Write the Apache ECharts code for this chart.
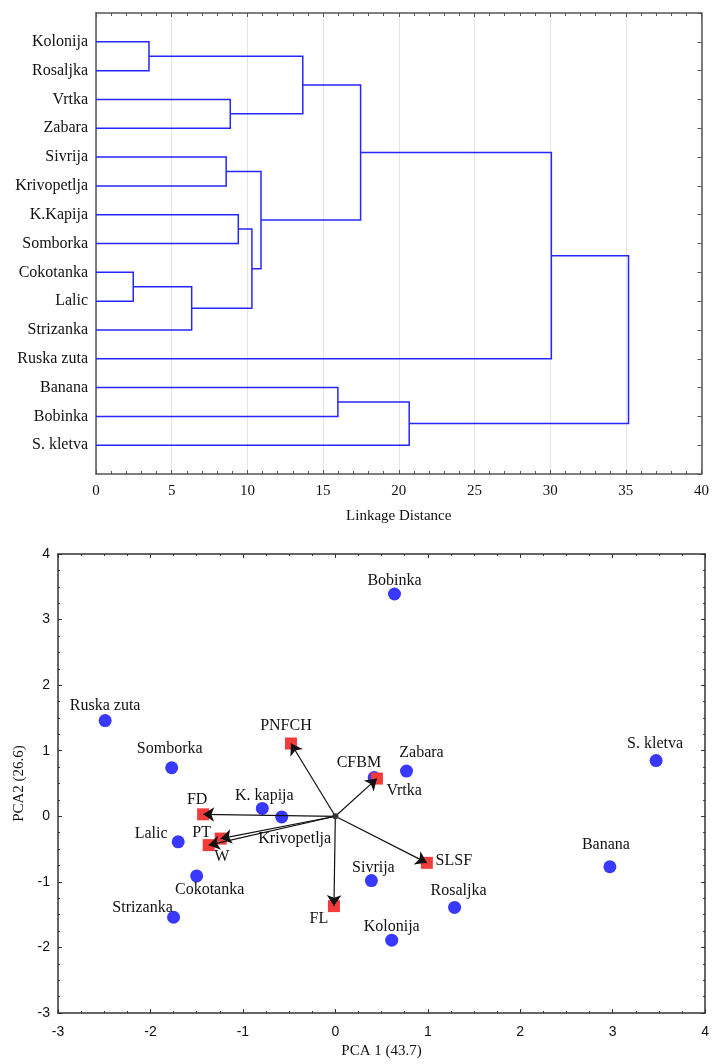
<!DOCTYPE html>
<html>
<head>
<meta charset="utf-8">
<script src="https://cdn.jsdelivr.net/npm/echarts@6/dist/echarts.min.js"></script>
<style>
  html, body { margin: 0; padding: 0; background: #ffffff; }
  #chart { width: 712px; height: 1064px; }
</style>
</head>
<body>
<div id="chart"></div>
<script>
// ---- dendrogram data ----
var leaves = ['Kolonija', 'Rosaljka', 'Vrtka', 'Zabara', 'Sivrija', 'Krivopetlja', 'K.Kapija',
  'Somborka', 'Cokotanka', 'Lalic', 'Strizanka', 'Ruska zuta', 'Banana', 'Bobinka', 'S. kletva']
// each merge: [left node, right node, linkage distance]; node >= 15 is merge (node - 15)
var mergeLeft = [0, 2, 15, 4, 6, 8, 20, 19, 18, 17, 24, 12, 26, 25]
var mergeRight = [1, 3, 16, 5, 7, 9, 10, 21, 22, 23, 11, 13, 14, 27]
var mergeHeight = [3.5, 8.87, 13.66, 8.6, 9.4, 2.46, 6.32, 10.3, 10.9, 17.48, 30.08, 15.98, 20.69, 35.18]

// ---- PCA data ----
var cultivars = ['Bobinka', 'Ruska zuta', 'Somborka', 'K. kapija', 'Krivopetlja', 'Lalic', 'Cokotanka',
  'Strizanka', 'Vrtka', 'Zabara', 'S. kletva', 'Sivrija', 'Rosaljka', 'Kolonija', 'Banana']
var pc1 = [0.64, -2.49, -1.77, -0.79, -0.58, -1.70, -1.50, -1.75, 0.42, 0.77, 3.47, 0.39, 1.29, 0.61, 2.97]
var pc2 = [3.39, 1.46, 0.74, 0.12, -0.01, -0.39, -0.91, -1.54, 0.59, 0.69, 0.85, -0.98, -1.39, -1.89, -0.77]
var variables = ['PNFCH', 'CFBM', 'FD', 'PT', 'W', 'SLSF', 'FL']
var vx = [-0.48, 0.45, -1.43, -1.24, -1.37, 0.99, -0.015]
var vy = [1.11, 0.575, 0.03, -0.34, -0.44, -0.71, -1.37]

var labelOffset = {
  'Bobinka': [0, -13], 'Ruska zuta': [0, -15], 'Somborka': [-2, -19], 'K. kapija': [2, -13],
  'Krivopetlja': [13, 22], 'Lalic': [-27, -8], 'Cokotanka': [13, 14], 'Strizanka': [-31, -9],
  'Vrtka': [30, 13], 'Zabara': [15, -18], 'S. kletva': [-1, -17], 'Sivrija': [2, -13],
  'Rosaljka': [4, -17], 'Kolonija': [0, -13], 'Banana': [-4, -22],
  'PNFCH': [-5, -18], 'CFBM': [-18, -16], 'FD': [-6, -15], 'PT': [-19, -6], 'W': [13, 12],
  'SLSF': [27, -2], 'FL': [-15, 13]
}

var serif = '"Liberation Serif", "DejaVu Serif", serif'
var sans = '"Liberation Sans", Arial, sans-serif'

// build dendrogram polylines
var nodeY = leaves.map(function(n, i) { return i + 1 })
var nodeH = leaves.map(function() { return 0 })
var links = []
for (var m = 0; m < mergeHeight.length; m++) {
  var a = mergeLeft[m], b = mergeRight[m], h = mergeHeight[m]
  links.push({ coords: [[nodeH[a], nodeY[a]], [h, nodeY[a]], [h, nodeY[b]], [nodeH[b], nodeY[b]]] })
  nodeY.push((nodeY[a] + nodeY[b]) / 2)
  nodeH.push(h)
}

function pointData(names, xs, ys) {
  return names.map(function(n, i) {
    return { name: n, value: [xs[i], ys[i]], label: { offset: labelOffset[n] } }
  })
}

var frameDark = '#333'
var frameGrey = '#555'
var textCol = '#111'

var option = {
  animation: false,
  backgroundColor: '#ffffff',
  grid: [
    { left: 96, top: 13, width: 607, height: 461 },
    { left: 58, top: 554, width: 650, height: 459 }
  ],
  xAxis: [
    {
      gridIndex: 0, type: 'value', min: 0, max: 40, interval: 5, position: 'bottom',
      name: 'Linkage Distance', nameLocation: 'middle', nameGap: 35,
      nameTextStyle: { fontFamily: serif, fontSize: 15, color: textCol },
      axisLine: { onZero: false, lineStyle: { color: frameGrey, width: 1.5 } },
      axisTick: { inside: true, length: 4, lineStyle: { color: frameGrey } },
      minorTick: { show: true, splitNumber: 5, length: 3, lineStyle: { color: frameGrey } },
      splitLine: { show: true, lineStyle: { color: '#e4e4e4' } },
      axisLabel: { fontFamily: serif, fontSize: 15, color: textCol, margin: 10 }
    },
    {
      gridIndex: 0, type: 'value', min: 0, max: 40, interval: 5, position: 'top',
      axisLine: { onZero: false, lineStyle: { color: frameGrey, width: 1.5 } },
      axisTick: { inside: true, length: 4, lineStyle: { color: frameGrey } },
      minorTick: { show: true, splitNumber: 5, length: 3, lineStyle: { color: frameGrey } },
      splitLine: { show: false }, axisLabel: { show: false }
    },
    {
      gridIndex: 1, type: 'value', min: -3, max: 4, interval: 1, position: 'bottom',
      name: 'PCA 1 (43.7)', nameLocation: 'middle', nameGap: 31,
      nameTextStyle: { fontFamily: serif, fontSize: 15, color: textCol },
      axisLine: { onZero: false, lineStyle: { color: frameDark, width: 1.5 } },
      axisTick: { inside: true, length: 4, lineStyle: { color: frameDark } },
      minorTick: { show: true, splitNumber: 4, length: 2, lineStyle: { color: frameDark } },
      splitLine: { show: false },
      axisLabel: { fontFamily: sans, fontSize: 14, color: textCol, margin: 12 }
    },
    {
      gridIndex: 1, type: 'value', min: -3, max: 4, interval: 1, position: 'top',
      axisLine: { onZero: false, lineStyle: { color: frameDark, width: 1.5 } },
      axisTick: { inside: true, length: 4, lineStyle: { color: frameDark } },
      minorTick: { show: true, splitNumber: 4, length: 2, lineStyle: { color: frameDark } },
      splitLine: { show: false }, axisLabel: { show: false }
    }
  ],
  yAxis: [
    {
      gridIndex: 0, type: 'value', min: 0, max: 16, interval: 1, inverse: true, position: 'left',
      axisLine: { onZero: false, lineStyle: { color: frameGrey, width: 1.5 } },
      axisTick: { show: false },
      splitLine: { show: false },
      axisLabel: {
        fontFamily: serif, fontSize: 16, color: textCol, margin: 8,
        formatter: function(v) { return leaves[v - 1] || '' }
      }
    },
    {
      gridIndex: 0, type: 'value', min: 0, max: 16, interval: 1, inverse: true, position: 'right',
      axisLine: { onZero: false, lineStyle: { color: frameGrey, width: 1.5 } },
      axisTick: { inside: true, length: 4, lineStyle: { color: frameGrey } },
      splitLine: { show: false }, axisLabel: { show: false }
    },
    {
      gridIndex: 1, type: 'value', min: -3, max: 4, interval: 1, position: 'left',
      name: 'PCA2 (26.6)', nameLocation: 'middle', nameGap: 26, nameRotate: 90,
      nameTextStyle: { fontFamily: serif, fontSize: 15, color: textCol },
      axisLine: { onZero: false, lineStyle: { color: frameDark, width: 1.5 } },
      axisTick: { inside: true, length: 4, lineStyle: { color: frameDark } },
      minorTick: { show: true, splitNumber: 4, length: 2, lineStyle: { color: frameDark } },
      splitLine: { show: false },
      axisLabel: { fontFamily: sans, fontSize: 14, color: textCol, margin: 8 }
    },
    {
      gridIndex: 1, type: 'value', min: -3, max: 4, interval: 1, position: 'right',
      axisLine: { onZero: false, lineStyle: { color: frameDark, width: 1.5 } },
      axisTick: { inside: true, length: 4, lineStyle: { color: frameDark } },
      minorTick: { show: true, splitNumber: 4, length: 2, lineStyle: { color: frameDark } },
      splitLine: { show: false }, axisLabel: { show: false }
    }
  ],
  series: [
    {
      type: 'lines', coordinateSystem: 'cartesian2d', xAxisIndex: 0, yAxisIndex: 0,
      polyline: true, silent: true,
      lineStyle: { color: '#2626ff', width: 1.5, opacity: 1 },
      data: links
    },
    {
      type: 'lines', coordinateSystem: 'cartesian2d', xAxisIndex: 2, yAxisIndex: 2,
      silent: true, z: 5,
      symbol: ['none', 'arrow'], symbolSize: 11,
      lineStyle: { color: '#111', width: 1.2, opacity: 1 },
      data: variables.map(function(n, i) { return { coords: [[0, 0], [vx[i], vy[i]]] } })
    },
    {
      type: 'scatter', xAxisIndex: 2, yAxisIndex: 2, z: 3,
      symbol: 'circle', symbolSize: 13,
      itemStyle: { color: '#3838ff', opacity: 1 },
      label: { show: true, position: 'inside', formatter: '{b}', fontFamily: serif, fontSize: 16, color: textCol },
      data: pointData(cultivars, pc1, pc2)
    },
    {
      type: 'scatter', xAxisIndex: 2, yAxisIndex: 2, z: 4,
      symbol: 'rect', symbolSize: 12,
      itemStyle: { color: '#f23c3c', opacity: 1 },
      label: { show: true, position: 'inside', formatter: '{b}', fontFamily: serif, fontSize: 16, color: textCol },
      data: pointData(variables, vx, vy)
    },
    {
      type: 'scatter', xAxisIndex: 2, yAxisIndex: 2, z: 6,
      symbol: 'circle', symbolSize: 6,
      itemStyle: { color: '#333', opacity: 1 },
      data: [[0, 0]]
    }
  ]
}

var myChart = echarts.init(document.getElementById('chart'))
myChart.setOption(option)
window.addEventListener('resize', function() {
  myChart.resize()
})
</script>
</body>
</html>
